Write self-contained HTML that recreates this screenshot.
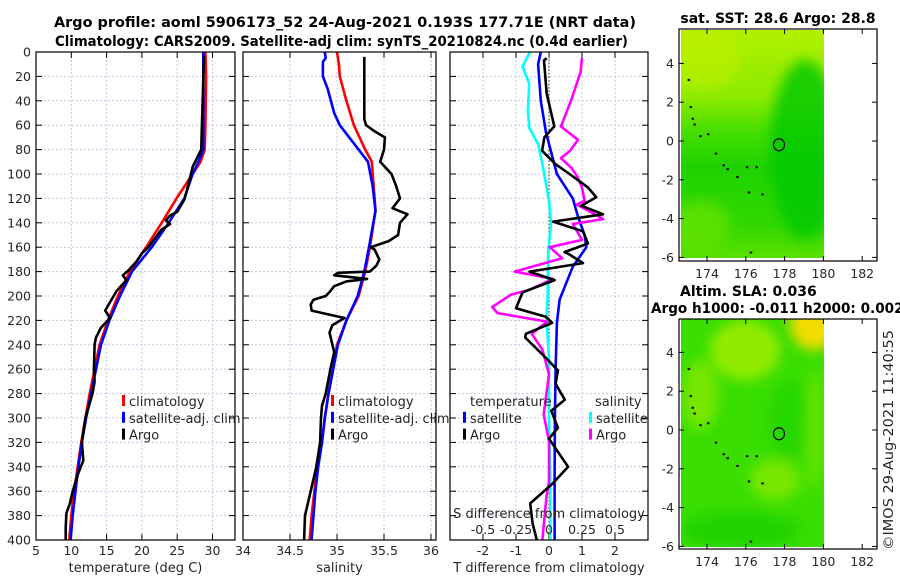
<!DOCTYPE html>
<html><head><meta charset="utf-8"><style>
html,body{margin:0;padding:0;background:#fff;}
svg{display:block;font-family:"DejaVu Sans","Liberation Sans",sans-serif;}
.tk{font-size:12.5px;fill:#262626;}
.ttl{font-size:14px;font-weight:bold;fill:#000;}
.lg{font-size:13px;fill:#262626;}
</style></head><body>
<svg id="fig" width="900" height="580" viewBox="0 0 900 580" xmlns="http://www.w3.org/2000/svg">
<defs>
<filter id="bl" x="-20%" y="-20%" width="140%" height="140%"><feGaussianBlur stdDeviation="6"/></filter>
<linearGradient id="g1" x1="0" y1="0" x2="0" y2="1">
<stop offset="0" stop-color="#b2f000"/><stop offset="0.3" stop-color="#8aea00"/><stop offset="0.45" stop-color="#44de00"/><stop offset="0.6" stop-color="#1ed200"/><stop offset="0.85" stop-color="#30d800"/><stop offset="1" stop-color="#5ae000"/></linearGradient>
<clipPath id="c1"><rect x="681" y="30" width="143" height="228"/></clipPath>
<clipPath id="c2"><rect x="681" y="319" width="143" height="228"/></clipPath>
</defs>
<text class="ttl" x="54" y="27" textLength="582" lengthAdjust="spacingAndGlyphs">Argo profile: aoml 5906173_52 24-Aug-2021 0.193S 177.71E (NRT data)</text>
<text class="ttl" x="55" y="46" textLength="573" lengthAdjust="spacingAndGlyphs">Climatology: CARS2009. Satellite-adj clim: synTS_20210824.nc (0.4d earlier)</text>
<g id="panels"></g>
<g id="maps"></g>
<text class="lg" transform="translate(893,550) rotate(-90)" textLength="220" lengthAdjust="spacingAndGlyphs">©IMOS 29-Aug-2021 11:40:55</text>
</svg>
<script>
// ---- data (depth in m) ----
const tClimDepth=[0,20,60,80,90,100,120,140,160,180,200,220,240,260,280,300,320,340,360,380,400];
const tClimVal=[29.0,29.1,29.0,28.9,28.3,27.2,24.9,22.8,20.6,18.3,16.6,15.2,14.0,13.3,12.6,12.0,11.4,10.9,10.4,10.0,9.7];
const tSatDepth=[0,80,90,100,120,140,160,180,200,220,240,260,280,300,320,340,360,380,400];
const tSatVal=[28.7,28.7,28.0,27.2,26.0,23.8,21.4,18.6,16.9,15.4,14.2,13.5,12.8,12.1,11.5,11.0,10.6,10.2,9.9];
const tArgoDepth=[3,80,94,99,115,121,131,134,138,141,146,150,160,165,172,179,183,187,196,204,212,218,226,234,240,260,270,280,300,320,335,345,360,370,378,390,400];
const tArgoVal=[28.8,28.4,27.2,27.0,26.3,26.0,25.0,24.0,23.4,24.0,22.7,22.2,20.9,20.0,19.2,18.1,17.3,17.8,16.4,15.6,14.8,15.5,14.2,13.5,13.3,13.2,13.3,13.0,12.0,11.5,11.7,11.0,10.2,9.8,9.3,9.2,9.2];
const sClimDepth=[0,10,20,40,60,80,90,130,160,180,200,220,240,260,280,300,320,340,360,380,400];
const sClimVal=[35.0,35.02,35.03,35.1,35.18,35.3,35.37,35.41,35.35,35.3,35.23,35.1,35.0,34.96,34.91,34.87,34.84,34.79,34.76,34.73,34.71];
const sSatDepth=[0,5,8,20,30,50,60,70,80,90,110,130,160,180,200,220,240,260,280,300,320,340,360,380,400];
const sSatVal=[34.87,34.88,34.85,34.85,34.9,34.97,35.03,35.13,35.23,35.33,35.38,35.41,35.34,35.29,35.22,35.1,35.01,34.96,34.91,34.87,34.84,34.8,34.77,34.75,34.73];
const sArgoDepth=[4,20,40,55,60,65,70,80,90,100,110,120,128,133,140,150,155,160,162,170,175,180,181,183,185,186,188,192,196,200,203,207,212,218,224,230,246,260,280,290,300,320,340,360,380,400];
const sArgoVal=[35.29,35.29,35.29,35.29,35.31,35.4,35.51,35.5,35.46,35.58,35.63,35.67,35.59,35.75,35.67,35.65,35.55,35.36,35.4,35.45,35.42,35.35,35.01,34.97,35.2,35.32,35.1,34.97,34.93,34.88,34.75,34.72,34.73,35.08,34.95,34.92,34.97,34.93,34.88,34.84,34.83,34.82,34.78,34.72,34.66,34.65];
const dtSatDepth=[0,10,40,66,100,120,135,150,160,176,203,222,260,300,350,400];
const dtSatVal=[-0.25,-0.33,-0.25,-0.09,0.24,0.72,0.88,1.08,1.13,0.72,0.32,0.24,0.2,0.18,0.17,0.17];
const dsSatDepth=[0,12,26,48,62,76,95,122,141,164,200,218,250,300,350,400];
const dsSatVal=[-0.145,-0.2,-0.15,-0.16,-0.15,-0.08,-0.045,0,0.015,-0.006,-0.01,-0.02,0,0,0.01,0.01];
const dtArgoDepth=[5,7,34,61,70,81,92,100,111,119,126,133,139,147,157,164,166,173,180,187,197,210,217,222,231,234,250,261,272,285,294,308,317,340,354,370,386,400];
const dtArgoVal=[-0.07,-0.15,-0.07,0.16,-0.14,-0.21,0.2,0.62,1.18,1.43,0.98,1.64,0.12,1.03,1.18,0.47,0.62,1.03,-0.59,0.17,-0.8,-1.0,-0.1,0.1,-0.7,-0.72,-0.12,0.27,0.2,0.48,0.07,0.27,0.0,0.58,0.1,-0.57,-0.5,-0.37];
const dsArgoDepth=[5,16,39,53,61,72,81,87,95,103,111,122,125,133,137,141,154,160,169,180,186,195,199,209,214,221,231,244,264,297,319,352,365,400];
const dsArgoVal=[0.25,0.24,0.17,0.12,0.09,0.22,0.16,0.09,0.17,0.22,0.25,0.27,0.21,0.35,0.41,0.18,0.25,0.005,0.1,-0.26,0.03,-0.15,-0.29,-0.43,-0.39,-0.015,-0.13,-0.05,0,-0.04,0,0,-0.02,-0.05];
const depthTicks=[0,20,40,60,80,100,120,140,160,180,200,220,240,260,280,300,320,340,360,380,400];
const tempTicks=[5,10,15,20,25,30];
const salTicks=[34,34.5,35,35.5,36];
const dtTicks=[-2,-1,0,1,2];
const dsTickVals=[-0.5,-0.25,0,0.25,0.5];
const dsTickLabels=["-0.5","-0.25","0","0.25","0.5"];
const lonTicks=[174,176,178,180,182];
const latTicks=[4,2,0,-2,-4,-6];
const argoLon=177.71, argoLat=-0.193;

// ---- axes ----
const yD=d=>52+d*1.22;
const xT=t=>36+(t-5)*7.06;
const xS=s=>243+(s-34)*94;
const xdT=v=>549+v*33;
const xdS=v=>549+v*132;
const xLon=l=>707+(l-174)*19.4;
const yLat1=l=>141-l*19.4;
const yLat2=l=>430-l*19.4;

const NS="http://www.w3.org/2000/svg";
function mk(tag,attrs,parent){const e=document.createElementNS(NS,tag);for(const k in attrs)e.setAttribute(k,attrs[k]);parent.appendChild(e);return e;}
const P=document.getElementById('panels');

function panel(name,x0,x1,xticks,xf,labels,xlabel,showY){
  const g=mk('g',{},P);
  
  
  xticks.forEach(t=>{const x=xf(t);
    if(x>x0+1&&x<x1-1){const l=mk('line',{x1:x,x2:x,y1:52,y2:540,stroke:'#c4c8e4','stroke-width':1,'stroke-dasharray':'2,2'},g);
    }});
  depthTicks.forEach(d=>{const y=yD(d);
    if(d>0&&d<400){const l=mk('line',{x1:x0,x2:x1,y1:y,y2:y,stroke:'#c4c8e4','stroke-width':1,'stroke-dasharray':'2,2'},g);
    }
    mk('line',{x1:x0,x2:x0+6,y1:y,y2:y,stroke:'#000'},g);mk('line',{x1:x1-6,x2:x1,y1:y,y2:y,stroke:'#000'},g);
    if(showY){const t=mk('text',{x:31,y:y+4.5,'text-anchor':'end',class:'tk'},g);t.textContent=d;
      }
  });
  xticks.forEach((t,i)=>{const x=xf(t);
    mk('line',{x1:x,x2:x,y1:540,y2:534,stroke:'#000'},g);mk('line',{x1:x,x2:x,y1:52,y2:58,stroke:'#000'},g);
    const tx=mk('text',{x:x,y:555,'text-anchor':'middle',class:'tk'},g);tx.textContent=labels[i];
    });
  const xl=mk('text',{x:(x0+x1)/2,y:572,'text-anchor':'middle',class:'lg'},g);xl.textContent=xlabel;
  
  return g;
}
function frame(g,x0,x1){const r=mk('rect',{x:x0,y:52,width:x1-x0,height:488,fill:'none',stroke:'#000','stroke-width':1.2},g);
  }
function series(g,name,depths,vals,xf,color){
  const pts=depths.map((d,i)=>xf(vals[i]).toFixed(1)+','+yD(d).toFixed(1)).join(' ');
  const l=mk('polyline',{points:pts,fill:'none',stroke:color,'stroke-width':2.6,'stroke-linejoin':'round'},g);
  
  
}
function legend(g,x,y0,items){
  items.forEach((it,i)=>{const y=y0+i*16.8;
    mk('rect',{x:x,y:y-6,width:3,height:11,fill:it[1]},g);
    const t=mk('text',{x:x+7,y:y+5,class:'lg'},g);t.textContent=it[0];
    });
}

// panel 1
let g1=panel('temperature-panel',36,235,tempTicks,xT,tempTicks.map(String),'temperature (deg C)',true);
series(g1,'temp-climatology-line',tClimDepth,tClimVal,xT,'#ff0000');
series(g1,'temp-satellite-line',tSatDepth,tSatVal,xT,'#0000ff');
series(g1,'temp-argo-line',tArgoDepth,tArgoVal,xT,'#000000');
frame(g1,36,235);
// panel 2
let g2=panel('salinity-panel',243,436,salTicks,xS,salTicks.map(String),'salinity',false);
series(g2,'sal-climatology-line',sClimDepth,sClimVal,xS,'#ff0000');
series(g2,'sal-satellite-line',sSatDepth,sSatVal,xS,'#0000ff');
series(g2,'sal-argo-line',sArgoDepth,sArgoVal,xS,'#000000');
frame(g2,243,436);
// panel 3
let g3=panel('difference-panel',450,648,dtTicks,xdT,dtTicks.map(String),'T difference from climatology',false);
const zl=mk('line',{x1:549,x2:549,y1:52,y2:540,stroke:'#555533','stroke-width':1.2,'stroke-dasharray':'1.5,2'},g3);

series(g3,'sal-diff-satellite-line',dsSatDepth,dsSatVal,xdS,'#00ffff');
series(g3,'temp-diff-satellite-line',dtSatDepth,dtSatVal,xdT,'#0000ff');
series(g3,'sal-diff-argo-line',dsArgoDepth,dsArgoVal,xdS,'#ff00ff');
series(g3,'temp-diff-argo-line',dtArgoDepth,dtArgoVal,xdT,'#000000');
frame(g3,450,648);

legend(g1,122,401,[['climatology','#ff0000'],['satellite-adj. clim','#0000ff'],['Argo','#000']]);
legend(g2,331,401,[['climatology','#ff0000'],['satellite-adj. clim','#0000ff'],['Argo','#000']]);
legend(g3,463,417.8,[['satellite','#0000ff'],['Argo','#000']]);
legend(g3,589,417.8,[['satellite','#00ffff'],['Argo','#ff00ff']]);
const th=mk('text',{x:470,y:406,class:'lg'},g3);th.textContent='temperature';

const sh=mk('text',{x:595,y:406,class:'lg'},g3);sh.textContent='salinity';

const sdl=mk('text',{x:549,y:518,'text-anchor':'middle',class:'lg'},g3);sdl.textContent='S difference from climatology';

dsTickVals.forEach((v,i)=>{const t=mk('text',{x:xdS(v),y:534,'text-anchor':'middle',class:'tk'},g3);t.textContent=dsTickLabels[i];
  });

// ---- maps ----
const M=document.getElementById('maps');
function mapAxes(name,top,bottom,yLat,clip,bg){
  const g=mk('g',{},M);
  
  
  const ig=mk('g',{'clip-path':'url(#'+clip+')'},g);
  bg(ig,top);
  [[173,3.2],[173.1,1.8],[173.2,1.2],[173.3,0.9],[173.6,0.3],[174,0.4],[174.4,-0.6],[174.8,-1.2],[175,-1.4],[175.5,-1.8],[176,-1.3],[176.5,-1.3],[176.1,-2.6],[176.8,-2.7],[176.2,-5.7]].forEach(p=>{
    mk('rect',{x:xLon(p[0]),y:yLat(p[1]),width:2.5,height:2,fill:'#000'},ig);});
  const c=mk('ellipse',{cx:xLon(argoLon),cy:yLat(argoLat),rx:5.5,ry:6,fill:'none',stroke:'#000','stroke-width':1.2},g);
  
  mk('rect',{x:679,y:top,width:198,height:bottom-top,fill:'none',stroke:'#000','stroke-width':1.2},g);
  latTicks.forEach(l=>{const y=yLat(l);mk('line',{x1:679,x2:684,y1:y,y2:y,stroke:'#000'},g);mk('line',{x1:872,x2:877,y1:y,y2:y,stroke:'#000'},g);
    const t=mk('text',{x:674,y:y+4.5,'text-anchor':'end',class:'tk'},g);t.textContent=l;
    });
  lonTicks.forEach(l=>{const x=xLon(l);mk('line',{x1:x,x2:x,y1:bottom,y2:bottom-5,stroke:'#000'},g);mk('line',{x1:x,x2:x,y1:top,y2:top+5,stroke:'#000'},g);
    const t=mk('text',{x:x,y:bottom+17,'text-anchor':'middle',class:'tk'},g);t.textContent=l;
    });
  return g;
}
mapAxes('sst-map',29,261,yLat1,'c1',(g,top)=>{
  mk('rect',{x:681,y:30,width:143,height:228,fill:'url(#g1)'},g);
  const b=mk('g',{filter:'url(#bl)'},g);
  mk('ellipse',{cx:805,cy:150,rx:35,ry:90,fill:'#00c800',opacity:0.8},b);
  mk('ellipse',{cx:700,cy:225,rx:30,ry:25,fill:'#6ae400',opacity:0.7},b);
  mk('ellipse',{cx:700,cy:60,rx:40,ry:30,fill:'#c0f000',opacity:0.6},b);
});
const t1=mk('text',{x:778,y:23,'text-anchor':'middle',class:'ttl'},M);t1.textContent='sat. SST: 28.6 Argo: 28.8';

mapAxes('sla-map',319,549,yLat2,'c2',(g,top)=>{
  mk('rect',{x:681,y:319,width:143,height:228,fill:'#3ade00'},g);
  const b=mk('g',{filter:'url(#bl)'},g);
  mk('ellipse',{cx:815,cy:325,rx:25,ry:25,fill:'#f2dc00'},b);
  mk('ellipse',{cx:745,cy:350,rx:35,ry:30,fill:'#a8ee00',opacity:0.8},b);
  mk('ellipse',{cx:700,cy:395,rx:18,ry:35,fill:'#90ea00',opacity:0.7},b);
  mk('ellipse',{cx:775,cy:480,rx:25,ry:20,fill:'#88e800',opacity:0.8},b);
  mk('ellipse',{cx:790,cy:420,rx:22,ry:40,fill:'#20d400',opacity:0.8},b);
  mk('ellipse',{cx:740,cy:530,rx:60,ry:18,fill:'#1cd000',opacity:0.8},b);
  mk('ellipse',{cx:815,cy:430,rx:10,ry:60,fill:'#7ae600',opacity:0.6},b);
});
const t2=mk('text',{x:680,y:296,class:'ttl'},M);t2.textContent='Altim. SLA: 0.036';

const t3=mk('text',{x:651,y:313,class:'ttl',textLength:'262',lengthAdjust:'spacingAndGlyphs'},M);t3.textContent='Argo h1000: -0.011 h2000: 0.0023';

</script>
</body></html>
